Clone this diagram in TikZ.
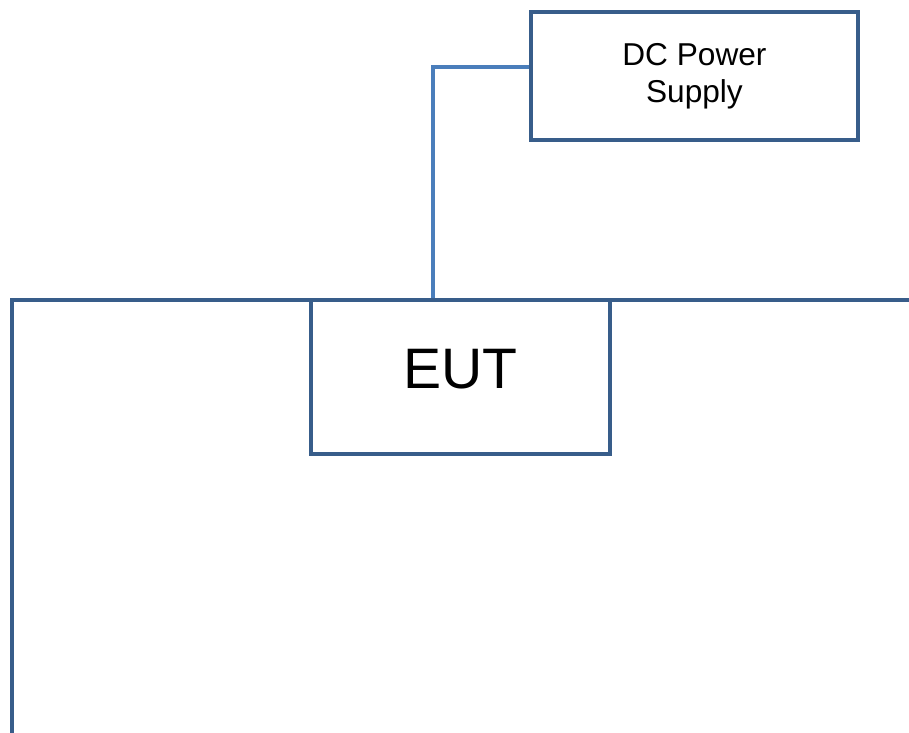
\documentclass[tikz,border=0pt]{standalone}
\usepackage{fontspec}
\setmainfont{Liberation Sans}
\usetikzlibrary{positioning}
\definecolor{boxcolor}{RGB}{56,93,138}
\definecolor{feedcolor}{RGB}{74,126,187}
\tikzset{
  %% unit : a box for a piece of equipment
  unit/.style={
    rectangle,
    draw=boxcolor,
    line width=2.5pt,
    inner sep=0pt,
    align=center
  },
  %% plane : the reference plane
  plane/.style={draw=boxcolor, line width=2.5pt},
  %% feed : the supply cable
  feed/.style={draw=feedcolor, line width=2.5pt}
}

\begin{document}
\begin{tikzpicture}
  [x=0.02cm,
  y=-0.02cm]

  \useasboundingbox (0, 0) rectangle (909, 733);

  %% Reference plane
  \coordinate (planeleft) at (12, 733);
  \coordinate (planeright) at (909, 300);
  \draw [plane] (planeleft) |- (planeright);

  %% Equipment
  \node (eut) [unit, minimum width=5.98cm, minimum height=3.08cm,
    font=\fontsize{32.5}{36}\selectfont, text height=23.2pt, text depth=10.2pt]
    at (460.5, 377) {%
    EUT%
  };

  \node (psu) [unit, above=3.11cm of eut, xshift=4.68cm,
    minimum width=6.54cm, minimum height=2.56cm,
    font=\fontsize{18}{20.7}\selectfont]{%
    DC Power\\Supply%
  };

  %% Connections
  \draw [feed] ([yshift=0.18cm]psu.west) -| ([xshift=-0.55cm]eut.north);

\end{tikzpicture}
\end{document}
